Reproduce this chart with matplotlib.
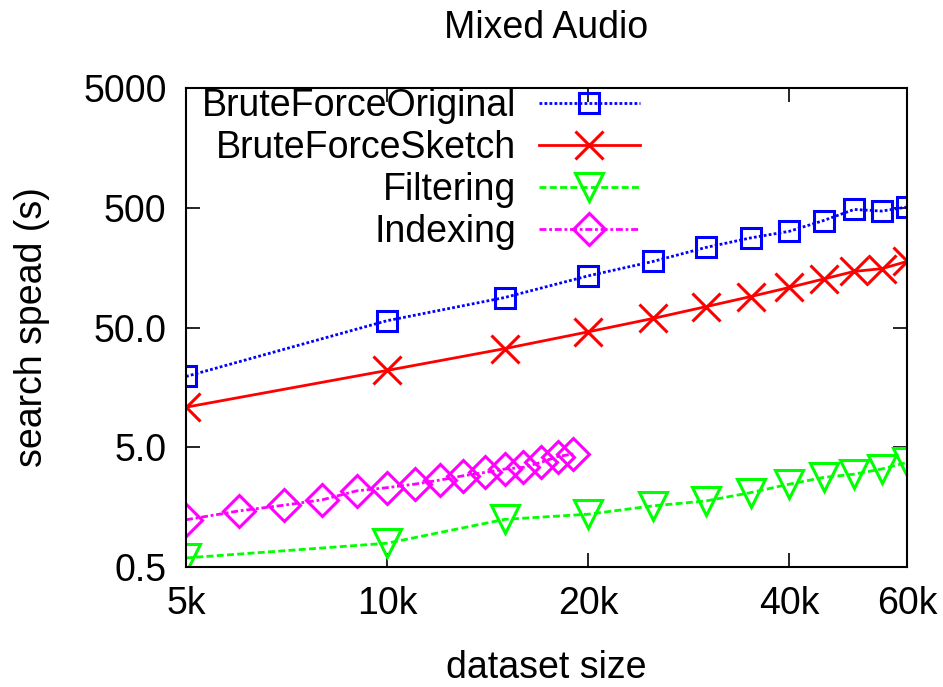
import matplotlib
matplotlib.use("Agg")
import matplotlib.pyplot as plt
from matplotlib.ticker import FixedLocator, NullLocator

plt.rcParams['font.family'] = ['Liberation Sans', 'DejaVu Sans']

# data
x_main = [5000, 10000, 15000, 20000, 25000, 30000, 35000, 40000, 45000, 50000, 55000, 60000]
brute_original = [19.5, 57, 89, 135, 178, 233, 280, 318, 391, 484, 469, 507]
brute_sketch = [10.8, 21.9, 33.3, 46, 59.5, 74.6, 90.6, 108, 127, 147, 155, 178]
filtering = [0.595, 0.79, 1.25, 1.38, 1.62, 1.78, 2.09, 2.46, 2.8, 2.98, 3.29, 3.74]
x_index = [5000, 6000, 7000, 8000, 9000, 10000, 11000, 12000, 13000, 14000,
           15000, 16000, 17000, 18000, 19000]
indexing = [1.24, 1.47, 1.64, 1.82, 2.16, 2.3, 2.46, 2.66, 2.89, 3.08,
            3.29, 3.4, 3.74, 4.18, 4.4]

x_ticks = [5000, 10000, 20000, 40000, 60000]
x_ticklabels = ['5k', '10k', '20k', '40k', '60k']
y_ticks = [0.5, 5, 50, 500, 5000]
y_ticklabels = ['0.5', '5.0', '50.0', '500', '5000']

W, H = 943, 687
fig = plt.figure(figsize=(W / 100, H / 100), dpi=100)
ax = fig.add_axes([186 / W, 1 - 567 / H, (907 - 186) / W, (567 - 88) / H])

fs = 27
lw = 2.0
mew = 2.2

ax.plot(x_main, brute_original, color='#0000ff', linestyle=(0, (1, 0.8)), lw=lw,
        marker='s', ms=15, mfc='none', mec='#0000ff', mew=mew, label='BruteForceOriginal')
ax.plot(x_main, brute_sketch, color='#ff0000', linestyle='-', lw=lw,
        marker='x', ms=20, mec='#ff0000', mew=mew, label='BruteForceSketch')
ax.plot(x_main, filtering, color='#00ff00', linestyle=(0, (2.5, 1.2)), lw=lw,
        marker='v', ms=20, mfc='none', mec='#00ff00', mew=mew, label='Filtering')
ax.plot(x_index, indexing, color='#ff00ff', linestyle=(0, (2.5, 1, 1, 1)), lw=lw,
        marker='D', ms=16, mfc='none', mec='#ff00ff', mew=mew, label='Indexing')

ax.set_xscale('log')
ax.set_yscale('log')
ax.set_xlim(5000, 60000)
ax.set_ylim(0.5, 5000)
ax.xaxis.set_major_locator(FixedLocator(x_ticks))
ax.xaxis.set_minor_locator(NullLocator())
ax.set_xticklabels(x_ticklabels)
ax.yaxis.set_major_locator(FixedLocator(y_ticks))
ax.yaxis.set_minor_locator(NullLocator())
ax.set_yticklabels(y_ticklabels)

ax.tick_params(direction='in', length=10, width=1.2, top=True, right=True,
               labelsize=fs, pad=14, colors='black')
for sp in ax.spines.values():
    sp.set_linewidth(1.5)

ax.set_title('Mixed Audio', fontsize=fs, pad=36)
ax.set_xlabel('dataset size', fontsize=fs, labelpad=20)
ax.set_ylabel('search spead (s)', fontsize=fs, labelpad=24)

leg = ax.legend(loc='upper right', bbox_to_anchor=((640 - 186) / 721, 1.0),
                frameon=False, markerfirst=False, fontsize=fs,
                handlelength=2.7, handletextpad=0.6, labelspacing=0.16,
                borderpad=0.0, borderaxespad=0.0)

fig.savefig('out.png', dpi=100)
